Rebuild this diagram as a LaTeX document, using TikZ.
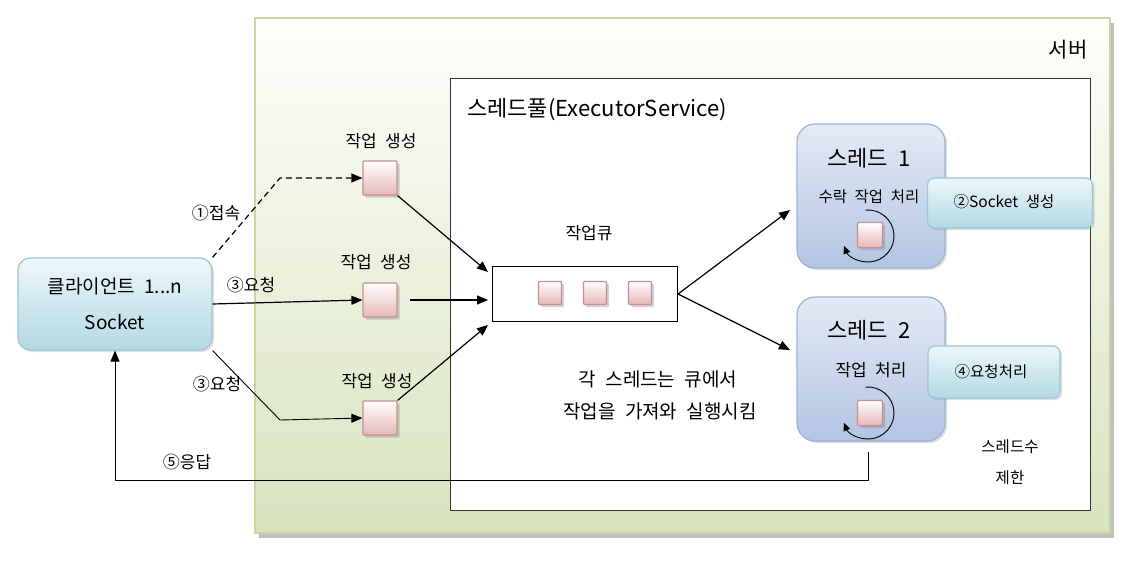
\documentclass[tikz,border=0pt]{standalone}
\usepackage{fontspec}
\setmainfont[WordSpace=2.2]{Noto Sans CJK KR}
\usetikzlibrary{shadows,arrows.meta}

\definecolor{srvtop}{HTML}{FEFEFB}
\definecolor{srvbot}{HTML}{D8E3BE}
\definecolor{srvline}{HTML}{C6D79F}
\definecolor{clitop}{HTML}{EEF7FA}
\definecolor{clibot}{HTML}{B3D8E4}
\definecolor{cliline}{HTML}{9CC8D6}
\definecolor{thrtop}{HTML}{E4EAF6}
\definecolor{thrbot}{HTML}{B3C4E2}
\definecolor{thrline}{HTML}{9DB2D8}
\definecolor{tasktop}{HTML}{FFFFFF}
\definecolor{taskbot}{HTML}{E6B7B7}
\definecolor{taskline}{HTML}{C98F8F}

\tikzset{
  arr/.style={line width=1.2, -{Triangle[length=11pt,width=9pt]}},
  task/.style={draw=taskline, line width=1.2, top color=tasktop, bottom color=taskbot,
    minimum size=34, inner sep=0, rounded corners=1,
    drop shadow={shadow xshift=2.5pt, shadow yshift=-2.5pt, opacity=.35}},
  qtask/.style={task, minimum size=23},
  ttask/.style={task, minimum size=25},
  thread/.style={draw=thrline, line width=1.2, top color=thrtop, bottom color=thrbot,
    rounded corners=18, minimum width=148, minimum height=144,
    drop shadow={shadow xshift=2pt, shadow yshift=-2pt, opacity=.25}},
  note/.style={draw=cliline, line width=1.2, top color=clitop, bottom color=clibot,
    rounded corners=7, minimum height=50,
    drop shadow={shadow xshift=2pt, shadow yshift=-2pt, opacity=.25}},
  lbl/.style={font=\fontsize{17}{19}\selectfont, inner sep=0},
  smalllbl/.style={font=\fontsize{15.5}{18}\selectfont, inner sep=0},
  biglbl/.style={font=\fontsize{20}{23}\selectfont, inner sep=0},
}

\begin{document}
\begin{tikzpicture}[x=1pt,y=1pt,yscale=-1,xscale=1]
\useasboundingbox (0,0) rectangle (1128,562);

% server and pool
\fill [black!25] (259,23) rectangle (1114,538);
\shade [top color=srvtop, bottom color=srvbot, draw=srvline, line width=1.5] (255,18) rectangle (1110,533);
\node [biglbl, font=\fontsize{21}{23}\selectfont] (srvname) at (1068,50) {서버};
\draw [fill=white, draw=black!80, line width=1] (450,78) rectangle (1090,510);
\node [biglbl, font=\fontsize{22}{24}\selectfont, anchor=west] (poolname) at (467,110) {스레드풀(ExecutorService)};

% client
\node [note, rounded corners=12, minimum width=194, minimum height=92, align=center,
  font=\fontsize{19}{21}\selectfont] (client) at (115,304) {클라이언트 1...n\\[15pt]Socket};

% tasks
\node [task] (task1) at (380,178) {};
\node [task] (task2) at (380,300) {};
\node [task] (task3) at (380,418) {};
\node [lbl] (mk1) at (381,141) {작업 생성};
\node [lbl] (mk2) at (376,262) {작업 생성};
\node [lbl] (mk3) at (377,381) {작업 생성};

\coordinate (bend1) at (280,178);
\coordinate (bend3) at (280,420);
\draw [arr, dashed, dash pattern={on 6pt off 4pt}] (client.north east) -- (bend1) -- (task1.west);
\draw [arr] (client.east) -- (task2.west);
\draw [arr, line width=0.9] (client.south east) -- (bend3) -- (task3.west);
\node [lbl] (lconn) at (216,213) {①접속};
\node [lbl] (lreq1) at (251,285) {③요청};
\node [lbl] (lreq2) at (217,384) {③요청};

% queue
\node [draw, line width=1, minimum width=185, minimum height=55] (queue) at (585,294) {};
\node [lbl] (qname) at (589,233) {작업큐};
\node [qtask] (q1) at (550,293) {};
\node [qtask] (q2) at (595,293) {};
\node [qtask] (q3) at (640,293) {};
\coordinate (qin1) at (488,272);
\coordinate (qin2) at (488,300);
\coordinate (qin3) at (488,325);
\draw [arr] (task1.south east) -- (qin1);
\draw [arr] (410,300) -- (qin2);
\draw [arr] (task3.north east) -- (qin3);

% threads
\node [thread] (thr1) at (871,196) {};
\node [thread] (thr2) at (871,369) {};
\node [font=\fontsize{22}{24}\selectfont, inner sep=0] (thr1name) at (869,158) {스레드 1};
\node [smalllbl] (thr1job) at (869,197) {수락 작업 처리};
\node [font=\fontsize{22}{24}\selectfont, inner sep=0] (thr2name) at (869,330) {스레드 2};
\node [lbl] (thr2job) at (871,370) {작업 처리};
\node [ttask] (t1) at (870,235) {};
\node [ttask] (t2) at (870,413) {};
\draw [line width=0.9, -{Triangle[length=8pt,width=7pt]}] (868,236) ++(265:26) arc[start angle=265, end angle=518, radius=26];
\draw [line width=0.9, -{Triangle[length=8pt,width=7pt]}] (868,413) ++(265:26) arc[start angle=265, end angle=518, radius=26];

\coordinate (tin1) at (790,210);
\coordinate (tin2) at (790,350);
\draw [arr] (queue.east) -- (tin1);
\draw [arr] (queue.east) -- (tin2);

% notes
\node [note, minimum width=165] (sock) at (1010,203) {};
\node [smalllbl] (socktext) at (1004,202) {②Socket 생성};
\node [note, minimum width=132, minimum height=52] (work) at (994,372) {};
\node [smalllbl] (worktext) at (991,372) {④요청처리};
\node [smalllbl] (lim1) at (1010,447) {스레드수};
\node [smalllbl] (lim2) at (1010,478) {제한};

\node [biglbl, font=\fontsize{19}{21}\selectfont] (how1) at (658,379) {각 스레드는 큐에서};
\node [biglbl, font=\fontsize{19}{21}\selectfont] (how2) at (660,411) {작업을 가져와 실행시킴};

% response
\coordinate (resp) at (868,452);
\coordinate (respturn) at (868,480);
\draw [arr, line width=1] (resp) -- (respturn) -| (client.south);
\node [lbl] (lresp) at (187,462) {⑤응답};
\end{tikzpicture}
\end{document}
